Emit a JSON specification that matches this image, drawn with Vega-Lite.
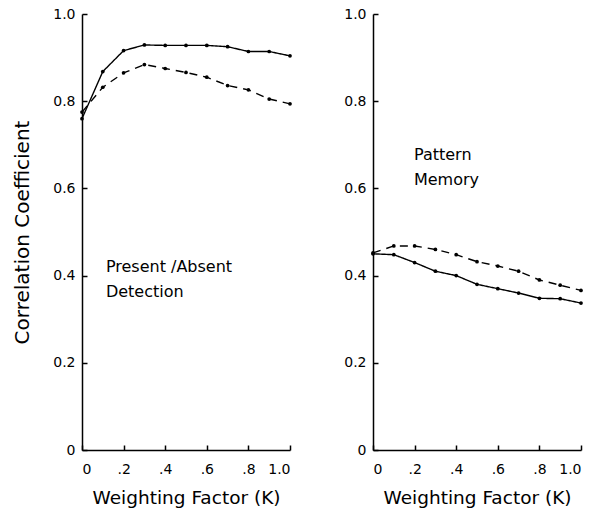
{
  "$schema": "https://vega.github.io/schema/vega-lite/v6.json",
  "background": "white",
  "padding": {"left": 12, "top": 7, "right": 5, "bottom": 5},
  "spacing": 50,
  "config": {
    "view": {"stroke": null},
    "font": "DejaVu Sans",
    "axis": {
      "grid": false,
      "domainColor": "black",
      "domainWidth": 1.5,
      "tickColor": "black",
      "tickWidth": 1.5,
      "tickSize": -5,
      "labelColor": "black",
      "labelFont": "DejaVu Sans",
      "labelFontSize": 14,
      "titleColor": "black",
      "titleFont": "DejaVu Sans",
      "titleFontSize": 18.5,
      "titleFontWeight": "normal"
    }
  },
  "datasets": {
    "curves": [
      {"panel": "A", "series": "solid", "k": 0.0, "r": 0.76},
      {"panel": "A", "series": "solid", "k": 0.1, "r": 0.868},
      {"panel": "A", "series": "solid", "k": 0.2, "r": 0.916},
      {"panel": "A", "series": "solid", "k": 0.3, "r": 0.929},
      {"panel": "A", "series": "solid", "k": 0.4, "r": 0.928},
      {"panel": "A", "series": "solid", "k": 0.5, "r": 0.928},
      {"panel": "A", "series": "solid", "k": 0.6, "r": 0.928},
      {"panel": "A", "series": "solid", "k": 0.7, "r": 0.925},
      {"panel": "A", "series": "solid", "k": 0.8, "r": 0.914},
      {"panel": "A", "series": "solid", "k": 0.9, "r": 0.914},
      {"panel": "A", "series": "solid", "k": 1.0, "r": 0.904},
      {"panel": "A", "series": "dashed", "k": 0.0, "r": 0.775},
      {"panel": "A", "series": "dashed", "k": 0.1, "r": 0.832},
      {"panel": "A", "series": "dashed", "k": 0.2, "r": 0.865},
      {"panel": "A", "series": "dashed", "k": 0.3, "r": 0.884},
      {"panel": "A", "series": "dashed", "k": 0.4, "r": 0.875},
      {"panel": "A", "series": "dashed", "k": 0.5, "r": 0.866},
      {"panel": "A", "series": "dashed", "k": 0.6, "r": 0.855},
      {"panel": "A", "series": "dashed", "k": 0.7, "r": 0.836},
      {"panel": "A", "series": "dashed", "k": 0.8, "r": 0.826},
      {"panel": "A", "series": "dashed", "k": 0.9, "r": 0.805},
      {"panel": "A", "series": "dashed", "k": 1.0, "r": 0.794},
      {"panel": "B", "series": "solid", "k": 0.0, "r": 0.45},
      {"panel": "B", "series": "solid", "k": 0.1, "r": 0.448},
      {"panel": "B", "series": "solid", "k": 0.2, "r": 0.43},
      {"panel": "B", "series": "solid", "k": 0.3, "r": 0.41},
      {"panel": "B", "series": "solid", "k": 0.4, "r": 0.40},
      {"panel": "B", "series": "solid", "k": 0.5, "r": 0.38},
      {"panel": "B", "series": "solid", "k": 0.6, "r": 0.37},
      {"panel": "B", "series": "solid", "k": 0.7, "r": 0.36},
      {"panel": "B", "series": "solid", "k": 0.8, "r": 0.348},
      {"panel": "B", "series": "solid", "k": 0.9, "r": 0.347},
      {"panel": "B", "series": "solid", "k": 1.0, "r": 0.337},
      {"panel": "B", "series": "dashed", "k": 0.0, "r": 0.452},
      {"panel": "B", "series": "dashed", "k": 0.1, "r": 0.468},
      {"panel": "B", "series": "dashed", "k": 0.2, "r": 0.468},
      {"panel": "B", "series": "dashed", "k": 0.3, "r": 0.46},
      {"panel": "B", "series": "dashed", "k": 0.4, "r": 0.448},
      {"panel": "B", "series": "dashed", "k": 0.5, "r": 0.432},
      {"panel": "B", "series": "dashed", "k": 0.6, "r": 0.422},
      {"panel": "B", "series": "dashed", "k": 0.7, "r": 0.41},
      {"panel": "B", "series": "dashed", "k": 0.8, "r": 0.39},
      {"panel": "B", "series": "dashed", "k": 0.9, "r": 0.378},
      {"panel": "B", "series": "dashed", "k": 1.0, "r": 0.366}
    ],
    "notes": [
      {"panel": "A", "k": 0.115, "r": 0.42, "text": "Present /Absent"},
      {"panel": "A", "k": 0.115, "r": 0.362, "text": "Detection"},
      {"panel": "B", "k": 0.197, "r": 0.677, "text": "Pattern"},
      {"panel": "B", "k": 0.197, "r": 0.62, "text": "Memory"}
    ]
  },
  "hconcat": [
    {
      "width": 208,
      "height": 436,
      "encoding": {
        "x": {"field": "k", "type": "quantitative", "scale": {"domain": [0, 1]},
              "axis": {"values": [0, 0.2, 0.4, 0.6, 0.8, 1.0], "title": "Weighting Factor (K)", "labelPadding": 17, "titlePadding": 12,
                       "labelExpr": "datum.value == 0 ? '0' : datum.value == 1 ? '1.0' : slice(format(datum.value, '.1f'), 1)"}},
        "y": {"field": "r", "type": "quantitative", "scale": {"domain": [0, 1]},
              "axis": {"values": [0, 0.2, 0.4, 0.6, 0.8, 1.0], "title": "Correlation Coefficient", "titleFontSize": 20, "labelPadding": 12, "titlePadding": 20,
                       "labelExpr": "datum.value == 0 ? '0' : format(datum.value, '.1f')"}}
      },
      "layer": [
        {
          "data": {"name": "curves"},
          "transform": [{"filter": "datum.panel == 'A'"}],
          "mark": {"type": "line", "color": "black", "strokeWidth": 1.4},
          "encoding": {
            "strokeDash": {"field": "series", "type": "nominal", "scale": {"domain": ["solid", "dashed"], "range": [[1, 0], [8, 6]]}, "legend": null}
          }
        },
        {
          "data": {"name": "curves"},
          "transform": [{"filter": "datum.panel == 'A'"}],
          "mark": {"type": "circle", "color": "black", "size": 14, "opacity": 1}
        },
        {
          "data": {"name": "notes"},
          "transform": [{"filter": "datum.panel == 'A'"}],
          "mark": {"type": "text", "align": "left", "baseline": "middle", "fontSize": 16, "font": "DejaVu Sans", "color": "black"},
          "encoding": {"text": {"field": "text"}}
        }
      ]
    },
    {
      "width": 208,
      "height": 436,
      "encoding": {
        "x": {"field": "k", "type": "quantitative", "scale": {"domain": [0, 1]},
              "axis": {"values": [0, 0.2, 0.4, 0.6, 0.8, 1.0], "title": "Weighting Factor (K)", "labelPadding": 17, "titlePadding": 12,
                       "labelExpr": "datum.value == 0 ? '0' : datum.value == 1 ? '1.0' : slice(format(datum.value, '.1f'), 1)"}},
        "y": {"field": "r", "type": "quantitative", "scale": {"domain": [0, 1]},
              "axis": {"values": [0, 0.2, 0.4, 0.6, 0.8, 1.0], "title": null, "labelPadding": 12,
                       "labelExpr": "datum.value == 0 ? '0' : format(datum.value, '.1f')"}}
      },
      "layer": [
        {
          "data": {"name": "curves"},
          "transform": [{"filter": "datum.panel == 'B'"}],
          "mark": {"type": "line", "color": "black", "strokeWidth": 1.4},
          "encoding": {
            "strokeDash": {"field": "series", "type": "nominal", "scale": {"domain": ["solid", "dashed"], "range": [[1, 0], [8, 6]]}, "legend": null}
          }
        },
        {
          "data": {"name": "curves"},
          "transform": [{"filter": "datum.panel == 'B'"}],
          "mark": {"type": "circle", "color": "black", "size": 14, "opacity": 1}
        },
        {
          "data": {"name": "notes"},
          "transform": [{"filter": "datum.panel == 'B'"}],
          "mark": {"type": "text", "align": "left", "baseline": "middle", "fontSize": 16, "font": "DejaVu Sans", "color": "black"},
          "encoding": {"text": {"field": "text"}}
        }
      ]
    }
  ]
}
